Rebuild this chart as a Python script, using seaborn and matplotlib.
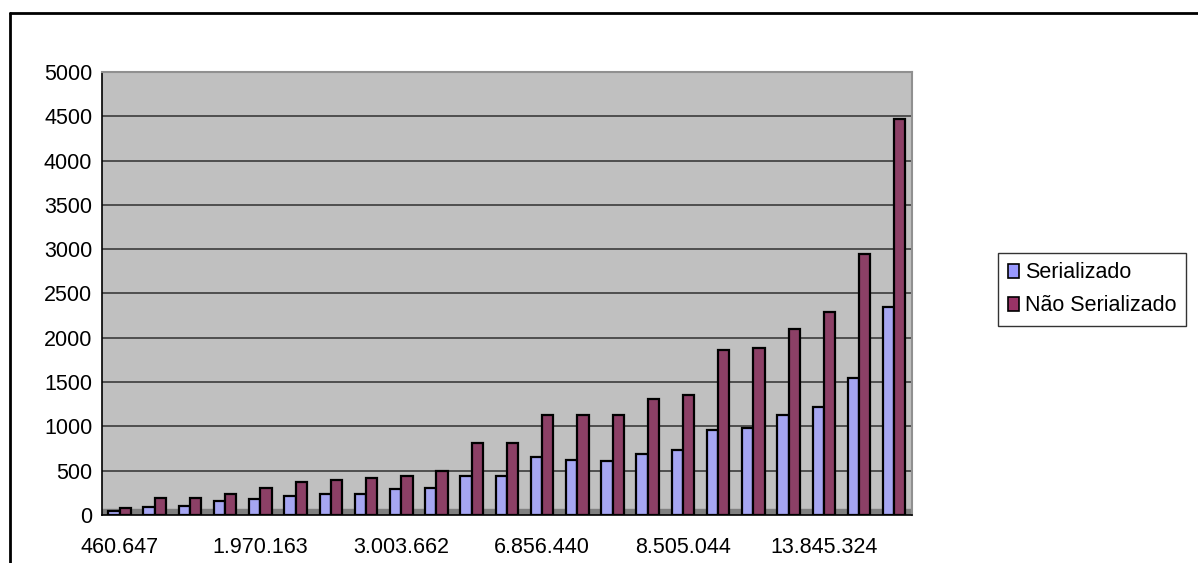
import matplotlib
matplotlib.use("Agg")
import matplotlib.pyplot as plt
import seaborn as sns
import pandas as pd
from matplotlib.lines import Line2D
from matplotlib.patches import Patch

# ---- data ----
n_groups = 23
group_ids = [f"g{i+1}" for i in range(n_groups)]
tick_labels = ["460.647", "1.970.163", "3.003.662", "6.856.440", "8.505.044", "13.845.324"]
serializado = [45, 85, 100, 155, 180, 215, 235, 240, 290, 305, 440, 435, 650, 615,
               605, 690, 730, 955, 980, 1130, 1215, 1545, 2350]
nao_serializado = [75, 195, 195, 240, 300, 370, 390, 420, 440, 500, 810, 810, 1125, 1125,
                   1130, 1310, 1350, 1860, 1880, 2100, 2285, 2940, 4470]
series_names = ["Serializado", "Não Serializado"]
colors = ["#9999FF", "#993366"]

df = pd.DataFrame({
    "grupo": group_ids * 2,
    "valor": serializado + nao_serializado,
    "serie": [series_names[0]] * n_groups + [series_names[1]] * n_groups,
})

sns.set_theme(style="white")
plt.rcParams["font.family"] = ["Liberation Sans", "DejaVu Sans"]
plt.rcParams["text.color"] = "black"
plt.rcParams["xtick.color"] = "black"
plt.rcParams["ytick.color"] = "black"

fig = plt.figure(figsize=(11.98, 5.63), dpi=100)
ax = fig.add_axes([0.0851, 0.0853, 0.676, 0.787])
ax.set_facecolor("#C0C0C0")

sns.barplot(data=df, x="grupo", y="valor", hue="serie", palette=colors,
            width=0.64, edgecolor="black", linewidth=1.6, ax=ax, legend=False,
            zorder=3)

ax.set_ylim(0, 5000)
ax.set_xlim(-0.5, n_groups - 0.5)
ax.set_yticks(range(0, 5001, 500))
ax.set_yticklabels([str(v) for v in range(0, 5001, 500)], fontsize=15.5)
ax.yaxis.grid(True, color="#303030", linewidth=1.1, zorder=0)
ax.set_axisbelow(True)

major_pos = list(range(0, n_groups, 4))
ax.set_xticks(major_pos)
ax.set_xticklabels(tick_labels, fontsize=15.5)
ax.set_xticks([i - 0.5 for i in range(n_groups + 1)], minor=True)
ax.tick_params(axis="x", which="major", length=0, pad=16)
ax.tick_params(axis="x", which="minor", length=6, width=1, color="black", direction="out")
ax.tick_params(axis="y", length=5, width=1, color="black", direction="out", pad=2)
ax.set_xlabel("")
ax.set_ylabel("")

for side in ["left", "bottom"]:
    ax.spines[side].set_color("black")
    ax.spines[side].set_linewidth(1.2)
for side in ["top", "right"]:
    ax.spines[side].set_color("#909090")
    ax.spines[side].set_linewidth(1.5)

# floor hint
ax.axhspan(0, 70, color="#808080", zorder=1)

handles = [Patch(facecolor=c, edgecolor="black", linewidth=1.2) for c in colors]
leg = fig.legend(handles, series_names, loc="upper left",
                 bbox_to_anchor=(0.833, 0.551), fontsize=15.5, frameon=True,
                 fancybox=False, edgecolor="black", handlelength=0.55,
                 handleheight=0.65, handletextpad=0.25, borderpad=0.45,
                 labelspacing=0.55, borderaxespad=0)
leg.get_frame().set_linewidth(1.0)

# outer chart frame
fig.add_artist(Line2D([0.0085, 1.0], [0.977, 0.977], transform=fig.transFigure,
                      color="black", linewidth=2))
fig.add_artist(Line2D([0.0085, 0.0085], [0.0, 0.977], transform=fig.transFigure,
                      color="black", linewidth=2))

fig.savefig("out.png", dpi=100, facecolor="white")
